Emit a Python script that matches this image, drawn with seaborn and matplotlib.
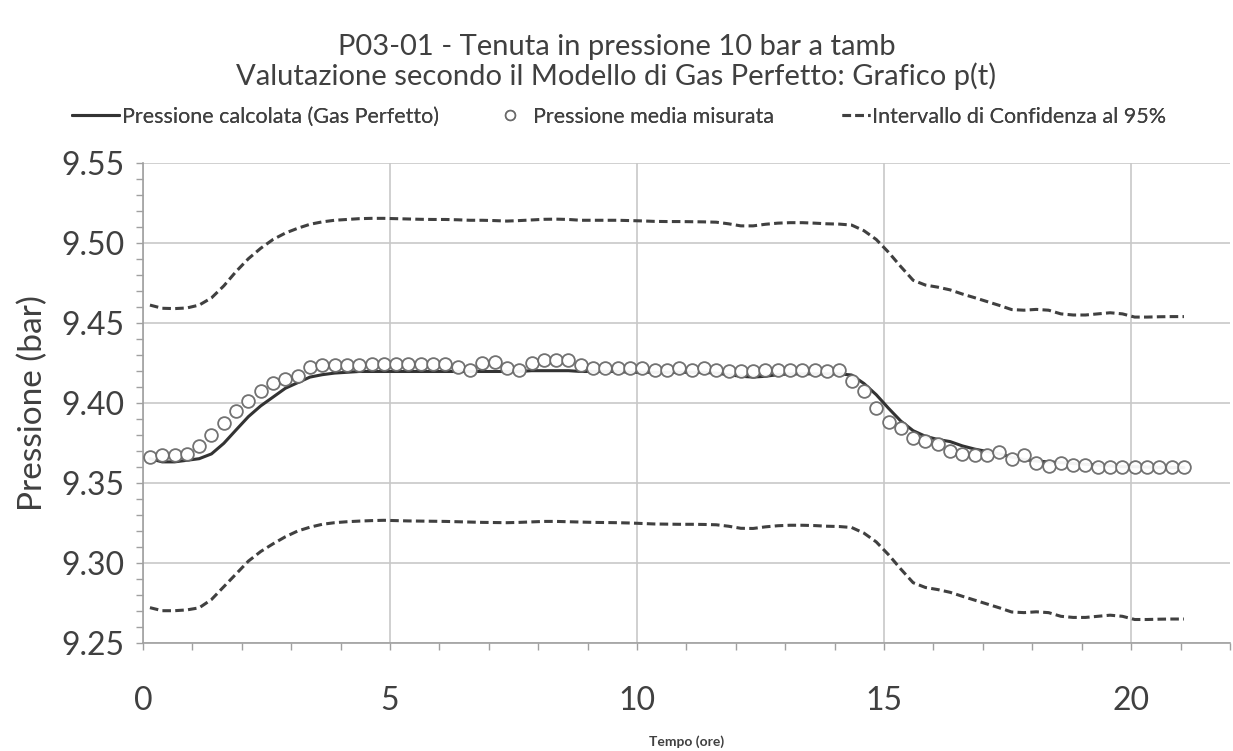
import numpy as np
import pandas as pd
import matplotlib
matplotlib.use("Agg")
import matplotlib.pyplot as plt
from matplotlib.ticker import MultipleLocator, FormatStrFormatter
from matplotlib.lines import Line2D
import seaborn as sns

# ---------------- data ----------------
time_h = np.linspace(0.14, 21.07, 85)  # sampling times (hours)

p_measured = [
    9.366, 9.367, 9.367, 9.368, 9.373, 9.380, 9.387, 9.395, 9.401, 9.407,
    9.412, 9.415, 9.4165, 9.4225, 9.4235, 9.4235, 9.4235, 9.4235, 9.424, 9.424,
    9.424, 9.424, 9.424, 9.424, 9.424, 9.422, 9.4205, 9.4245, 9.4255, 9.4215,
    9.4205, 9.4245, 9.4265, 9.4265, 9.4265, 9.4235, 9.4215, 9.4215, 9.4215, 9.4215,
    9.4215, 9.4205, 9.4205, 9.4215, 9.4205, 9.4215, 9.4205, 9.420, 9.420, 9.420,
    9.4205, 9.4205, 9.4205, 9.4205, 9.4205, 9.420, 9.4205, 9.4137, 9.407, 9.3965,
    9.388, 9.384, 9.378, 9.376, 9.374, 9.370, 9.368, 9.367, 9.367, 9.369,
    9.365, 9.367, 9.3626, 9.3606, 9.362, 9.361, 9.361, 9.3595, 9.3595, 9.3595,
    9.360, 9.360, 9.360, 9.360, 9.360,
]

p_calc = [
    9.365, 9.363, 9.363, 9.364, 9.365, 9.368, 9.3746, 9.383, 9.3913, 9.398,
    9.4035, 9.409, 9.4125, 9.416, 9.4175, 9.4185, 9.419, 9.4195, 9.4195, 9.4195,
    9.4195, 9.4195, 9.4195, 9.4195, 9.4195, 9.4195, 9.4195, 9.4195, 9.4195, 9.4195,
    9.4195, 9.420, 9.420, 9.420, 9.420, 9.4195, 9.4195, 9.4195, 9.4195, 9.419,
    9.419, 9.419, 9.419, 9.419, 9.419, 9.419, 9.4185, 9.4175, 9.4165, 9.416,
    9.4165, 9.4175, 9.418, 9.418, 9.418, 9.418, 9.418, 9.4173, 9.412, 9.405,
    9.3965, 9.3885, 9.3825, 9.379, 9.377, 9.3757, 9.373, 9.371, 9.3695, 9.368,
    9.366, 9.3645, 9.3635, 9.363, 9.3625, 9.362, 9.3615, 9.361, 9.3605, 9.360,
    9.360, 9.3598, 9.3596, 9.3595, 9.3595,
]

ci_upper = [
    9.4610, 9.4590, 9.4588, 9.4592, 9.4610, 9.4655, 9.4730, 9.4820, 9.4900, 9.4965,
    9.5020, 9.5060, 9.5090, 9.5115, 9.5130, 9.5140, 9.5145, 9.5150, 9.5152, 9.5152,
    9.5150, 9.5148, 9.5146, 9.5145, 9.5145, 9.5143, 9.5140, 9.5140, 9.5138, 9.5135,
    9.5138, 9.5142, 9.5146, 9.5147, 9.5145, 9.5140, 9.5140, 9.5140, 9.5140, 9.5138,
    9.5136, 9.5133, 9.5132, 9.5132, 9.5131, 9.5130, 9.5128, 9.5118, 9.5105, 9.5105,
    9.5115, 9.5122, 9.5125, 9.5125, 9.5122, 9.5118, 9.5116, 9.5110, 9.5075, 9.5020,
    9.4940, 9.4850, 9.4765, 9.4735, 9.4722, 9.4705, 9.4679, 9.4656, 9.4632, 9.4608,
    9.4582, 9.4578, 9.4583, 9.4578, 9.4555, 9.4548, 9.4548, 9.4555, 9.4562, 9.4555,
    9.4535, 9.4535, 9.4537, 9.4538, 9.4538,
]

ci_lower = [
    9.2719, 9.2700, 9.2700, 9.2705, 9.2718, 9.2770, 9.2850, 9.2930, 9.3010, 9.3070,
    9.3118, 9.3162, 9.3198, 9.3222, 9.3240, 9.3250, 9.3256, 9.3260, 9.3263, 9.3265,
    9.3263, 9.3261, 9.3260, 9.3259, 9.3258, 9.3256, 9.3254, 9.3252, 9.3251, 9.3250,
    9.3252, 9.3255, 9.3258, 9.3258, 9.3256, 9.3254, 9.3252, 9.3251, 9.3250, 9.3248,
    9.3245, 9.3242, 9.3241, 9.3240, 9.3240, 9.3239, 9.3237, 9.3228, 9.3215, 9.3214,
    9.3224, 9.3231, 9.3234, 9.3234, 9.3232, 9.3228, 9.3226, 9.3220, 9.3185, 9.3130,
    9.3050, 9.2960, 9.2875, 9.2845, 9.2832, 9.2815, 9.2790, 9.2766, 9.2742, 9.2718,
    9.2692, 9.2688, 9.2693, 9.2688, 9.2665, 9.2658, 9.2658, 9.2665, 9.2672, 9.2665,
    9.2645, 9.2645, 9.2647, 9.2648, 9.2648,
]

title_lines = ["P03-01 - Tenuta in pressione 10 bar a tamb",
               "Valutazione secondo il Modello di Gas Perfetto: Grafico p(t)"]
label_calc = "Pressione calcolata (Gas Perfetto)"
label_meas = "Pressione media misurata"
label_ci = "Intervallo di Confidenza al 95%"
x_label = "Tempo (ore)"
y_label = "Pressione (bar)"

df = pd.DataFrame({"t": time_h, "meas": p_measured, "calc": p_calc,
                   "up": ci_upper, "lo": ci_lower})

# ---------------- style ----------------
sns.set_theme(style="white")
plt.rcParams["font.family"] = ["Lato", "DejaVu Sans"]
text_col = "#404040"
line_col = "#333333"
grid_col = "#c8c8c8"
dash = (0, (2.8, 1.4))

fig = plt.figure(figsize=(12.33, 7.51), dpi=100)
ax = fig.add_axes([0.116, 0.1442, 0.8815, 0.6392])

sns.lineplot(data=df, x="t", y="up", ax=ax, color="#404040", lw=2.2,
             linestyle=dash, legend=False)
sns.lineplot(data=df, x="t", y="lo", ax=ax, color="#404040", lw=2.2,
             linestyle=dash, legend=False)
sns.lineplot(data=df, x="t", y="calc", ax=ax, color=line_col, lw=2.2, legend=False)
sns.scatterplot(data=df, x="t", y="meas", ax=ax, s=84, marker="o",
                facecolor="white", edgecolor="#6a6a6a", linewidth=1.3,
                alpha=0.95, legend=False, zorder=3)

ax.set_xlim(0, 22)
ax.set_ylim(9.25, 9.55)
ax.xaxis.set_major_locator(MultipleLocator(5))
ax.xaxis.set_minor_locator(MultipleLocator(1))
ax.yaxis.set_major_locator(MultipleLocator(0.05))
ax.yaxis.set_minor_locator(MultipleLocator(0.01))
ax.yaxis.set_major_formatter(FormatStrFormatter("%.2f"))
ax.grid(True, which="major", color=grid_col, lw=1.2)
ax.set_axisbelow(True)
for side in ["top", "right"]:
    ax.spines[side].set_visible(False)
for side in ["left", "bottom"]:
    ax.spines[side].set_color("#a0a0a0")
    ax.spines[side].set_linewidth(1.2)
ax.tick_params(axis="both", which="both", direction="out", color="#a0a0a0",
               labelcolor=text_col, labelsize=23, width=1, length=5,
               bottom=True, left=True)
ax.tick_params(axis="x", which="major", pad=26)
ax.tick_params(axis="y", which="major", pad=8)

ax.set_xlabel(x_label, fontsize=10, fontweight="bold", color=text_col)
ax.xaxis.set_label_coords(0.5, -0.207)
ax.xaxis.label.set_va("center")
ax.set_ylabel(y_label, fontsize=24, color=text_col)
ax.yaxis.set_label_coords(-0.1015, 0.5)
ax.yaxis.label.set_va("center")

fig.text(0.5, 0.938, title_lines[0], ha="center", va="center", fontsize=21, color=text_col)
fig.text(0.5, 0.898, title_lines[1], ha="center", va="center", fontsize=21, color=text_col)

# legend entries placed like the reference (three separate legend boxes)
leg_y = 1 - 117 / 751
leg_fs = 15.5
legend_specs = [
    (Line2D([], [], color=line_col, lw=2.2), label_calc, 72, 2.2, 0.1),
    (Line2D([], [], marker="o", ls="none", markersize=7, markerfacecolor="white",
            markeredgecolor="#6a6a6a", markeredgewidth=1.2), label_meas, 499, 1.0, 0.6),
    (Line2D([], [], color="#404040", lw=2.2, linestyle=dash), label_ci, 842, 1.3, 0.1),
]
for handle, lab, x0, hl, hp in legend_specs:
    lg = fig.legend([handle], [lab], loc="center left",
                    bbox_to_anchor=(x0 / 1233, leg_y), frameon=False,
                    fontsize=leg_fs, handlelength=hl, handletextpad=hp,
                    borderpad=0, borderaxespad=0, labelcolor=text_col)
    fig.add_artist(lg)

fig.savefig("out.png", dpi=100, facecolor="white")
